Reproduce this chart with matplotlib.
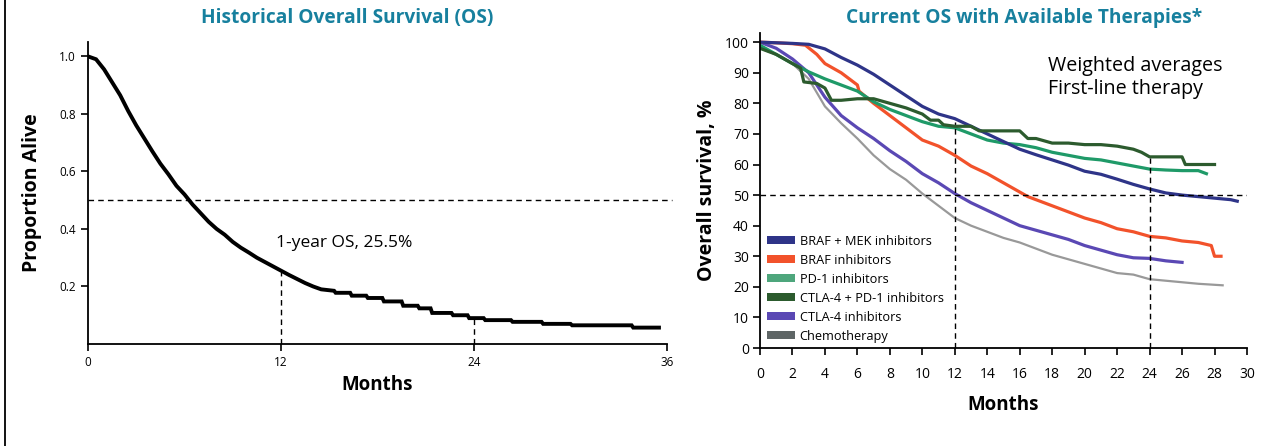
import matplotlib
matplotlib.use("Agg")
import matplotlib.pyplot as plt
from matplotlib.lines import Line2D
from matplotlib.patches import Patch

# ---------------- data ----------------
# Left panel: historical OS (Kaplan-Meier, proportion alive)
hist_months = [0, 0.5, 1, 1.5, 2, 2.5, 3, 3.5, 4, 4.5, 5, 5.5, 6, 6.5, 7, 7.5, 8, 8.5,
               9, 9.5, 10, 10.5, 11, 11.5, 12, 12.5, 13, 13.5, 14, 14.5, 15.3, 15.4,
               16.3, 16.4, 17.3, 17.4, 18.3, 18.4, 19.5, 19.6, 20.5, 20.6, 21.3, 21.4,
               22.6, 22.7, 23.6, 23.7, 24.6, 24.7, 26.3, 26.4, 28.2, 28.3, 30.0, 30.1,
               33.8, 33.9, 35.5]
hist_alive = [1.0, 0.99, 0.955, 0.91, 0.865, 0.81, 0.76, 0.715, 0.67, 0.627, 0.59, 0.55,
              0.52, 0.485, 0.455, 0.425, 0.40, 0.38, 0.355, 0.335, 0.318, 0.30, 0.285,
              0.27, 0.255, 0.24, 0.226, 0.212, 0.20, 0.19, 0.185, 0.178, 0.178, 0.168,
              0.168, 0.16, 0.16, 0.148, 0.148, 0.133, 0.133, 0.124, 0.124, 0.108,
              0.108, 0.10, 0.10, 0.09, 0.09, 0.083, 0.083, 0.077, 0.077, 0.07, 0.07,
              0.065, 0.065, 0.057, 0.057]
hist_xticks = [0, 12, 24, 36]
hist_yticks = [0.2, 0.4, 0.6, 0.8, 1.0]
hist_note = "1-year OS, 25.5%"

# Right panel: current OS by therapy (%)
series_names = ["BRAF + MEK inhibitors", "BRAF inhibitors", "PD-1 inhibitors",
                "CTLA-4 + PD-1 inhibitors", "CTLA-4 inhibitors", "Chemotherapy"]

braf_mek_t = [0, 1, 2, 3, 4, 5, 6, 7, 8, 9, 10, 11, 12, 13, 14, 15, 16, 17, 18, 19, 20,
              21, 22, 23, 24, 25, 26, 27, 28, 29, 29.4]
braf_mek_v = [100, 99.8, 99.6, 99.3, 97.8, 95, 92.5, 89.5, 86, 82.5, 79, 76.5, 75, 72.5,
              70, 67.5, 65, 63.2, 61.5, 59.8, 57.8, 56.8, 55.2, 53.5, 52, 50.7, 50,
              49.5, 49, 48.5, 48]

braf_t = [0, 1, 2, 2.8, 3.5, 4, 5, 6, 6.1, 7, 8, 9, 10, 11, 12, 13, 14, 15, 16, 16.5,
          17, 18, 19, 20, 21, 22, 23, 24, 25, 26, 27, 27.8, 28, 28.4]
braf_v = [100, 99.8, 99.5, 99, 96, 93, 90, 86, 84, 80, 76, 72, 68, 66, 63, 59.5, 57,
          54, 51, 49.5, 48.5, 46.5, 44.5, 42.5, 41, 39, 38, 36.5, 36, 35, 34.5, 33.5,
          30, 30]

pd1_t = [0, 1, 2, 3, 4, 5, 6, 7, 8, 9, 10, 11, 12, 13, 14, 15, 16, 17, 18, 19, 20, 21,
         22, 23, 24, 25, 26, 27, 27.5]
pd1_v = [99, 96, 93, 90.3, 88, 86, 84, 80.5, 78, 76, 74, 72.5, 72, 70, 68, 67, 66.5,
         65.5, 64, 63, 62, 61.5, 60.5, 59.5, 58.5, 58.2, 58, 58, 57]

combo_t = [0, 1, 2, 2.5, 2.7, 3.5, 4, 4.4, 5, 6, 7, 8, 9, 10, 10.5, 11, 11.3, 12, 13,
           13.5, 14, 15, 16, 16.5, 17, 18, 19, 20, 21, 22, 23, 23.5, 24, 25, 26, 26.2, 28]
combo_v = [98, 96, 93, 91.5, 87, 86.5, 85, 81, 81, 81.5, 81.5, 80, 78.5, 76.5, 74.5,
           74.5, 73, 72.5, 72.5, 71, 71, 71, 71, 68.5, 68.5, 67, 67, 66.5, 66.5, 66,
           65, 64, 62.5, 62.5, 62.5, 60, 60]

ctla4_t = [0, 1, 2, 3, 3.5, 4, 5, 6, 7, 8, 9, 10, 11, 12, 13, 14, 15, 16, 17, 18, 19,
           20, 21, 22, 23, 24, 25, 26]
ctla4_v = [100, 98, 94.5, 90, 86, 82, 76, 72, 68.5, 64.5, 61, 57, 54, 50.5, 47.5, 45,
           42.5, 40, 38.5, 37, 35.5, 33.5, 32, 30.5, 29.5, 29.3, 28.5, 28]

chemo_t = [0, 1, 2, 3, 4, 5, 6, 7, 8, 9, 10, 11, 12, 13, 14, 15, 16, 17, 18, 19, 20, 21,
           22, 23, 24, 25, 26, 27, 28.5]
chemo_v = [98, 96, 93, 88, 79, 73.5, 68.5, 63, 58.5, 55, 50.5, 46.5, 42.5, 40, 38, 36,
           34.5, 32.5, 30.5, 29, 27.5, 26, 24.5, 24, 22.5, 22, 21.5, 21, 20.5]

line_colors = ["#2e3488", "#f2522b", "#1f9a68", "#2c5b2e", "#5a48b4", "#999999"]
legend_colors = ["#2e3488", "#f2522b", "#4ea67c", "#2c5b2e", "#5a48b4", "#5f6666"]

cur_xticks = list(range(0, 31, 2))
cur_yticks = list(range(0, 101, 10))

title_color = "#17809e"
tick_font = ["Open Sans", "DejaVu Sans"]

# ---------------- figure ----------------
fig = plt.figure(figsize=(12.72, 4.46), dpi=100)
W, H = 1272, 446

def ax_rect(x0, x1, ytop, ybot):
    return [x0 / W, 1 - ybot / H, (x1 - x0) / W, (ybot - ytop) / H]

# left border line
fig.add_artist(Line2D([4.5 / W, 4.5 / W], [0, 1], color="black", lw=1.3))

# ---- left panel ----
ax1 = fig.add_axes(ax_rect(88, 667, 42, 344))
ax1.plot(hist_months, hist_alive, color="black", lw=2.8, solid_joinstyle="miter")
ax1.set_xlim(0, 36)
ax1.set_ylim(0, 1.05)
ax1.set_xticks(hist_xticks)
ax1.set_yticks(hist_yticks)
ax1.set_xticklabels([str(t) for t in hist_xticks])
ax1.set_yticklabels([f"{t:.1f}" for t in hist_yticks])
for s in ["top", "right"]:
    ax1.spines[s].set_visible(False)
for s in ["left", "bottom"]:
    ax1.spines[s].set_linewidth(1.3)
ax1.tick_params(direction="out", length=5, width=1.2, labelsize=8.5, pad=4)
for lab in ax1.get_xticklabels() + ax1.get_yticklabels():
    lab.set_family(tick_font)
ax1.axhline(0.5, xmin=0, xmax=1.008, color="black", lw=1, ls=(0, (4, 3)), clip_on=False)
ax1.plot([12, 12], [0, 0.25], color="black", lw=1, ls=(0, (4, 3)))
ax1.plot([24, 24], [0, 0.087], color="black", lw=1, ls=(0, (4, 3)))
ax1.text(11.7, 0.352, hist_note, fontsize=12.5, family=tick_font, va="center", ha="left")
ax1.set_xlabel("Months", fontsize=13.5, fontweight="bold", family="Open Sans", labelpad=4)
ax1.set_ylabel("Proportion Alive", fontsize=14, fontweight="bold", family="Open Sans",
               labelpad=12)
fig.text(347 / W, 1 - 18 / H, "Historical Overall Survival (OS)", color=title_color,
         fontsize=13.8, fontweight="bold", family="Open Sans", ha="center", va="center")

# ---- right panel ----
ax2 = fig.add_axes(ax_rect(760, 1247, 33, 348))
series = [(braf_mek_t, braf_mek_v), (braf_t, braf_v), (pd1_t, pd1_v),
          (combo_t, combo_v), (ctla4_t, ctla4_v), (chemo_t, chemo_v)]
draw_order = [5, 4, 1, 2, 0, 3]
for i in draw_order:
    t, v = series[i]
    lw = 1.6 if i == 5 else 2.3
    ax2.plot(t, v, color=line_colors[i], lw=lw, solid_joinstyle="round")
ax2.set_xlim(0, 30)
ax2.set_ylim(0, 103)
ax2.set_xticks(cur_xticks)
ax2.set_yticks(cur_yticks)
for s in ["top", "right"]:
    ax2.spines[s].set_visible(False)
for s in ["left", "bottom"]:
    ax2.spines[s].set_linewidth(1.3)
ax2.tick_params(direction="out", length=5, width=1.2, labelsize=10, pad=3)
ax2.tick_params(axis="x", pad=9)
for lab in ax2.get_xticklabels() + ax2.get_yticklabels():
    lab.set_family(tick_font)
ax2.axhline(50, color="black", lw=1, ls=(0, (4, 3)))
ax2.plot([12, 12], [0, 74], color="black", lw=1, ls=(0, (4, 3)))
ax2.plot([24, 24], [0, 62], color="black", lw=1, ls=(0, (4, 3)))
ax2.text(17.75, 88.5, "Weighted averages\nFirst-line therapy", fontsize=14.2,
         family=tick_font, va="center", ha="left", linespacing=1.2)
handles = [Patch(facecolor=c, edgecolor="none") for c in legend_colors]
ax2.legend(handles, series_names, loc="lower left", bbox_to_anchor=(-0.004, -0.012),
           frameon=False, prop={"family": tick_font, "size": 9.2},
           handlelength=2.2, handleheight=0.6, handletextpad=0.35, labelspacing=0.47,
           borderaxespad=0.3)
ax2.set_xlabel("Months", fontsize=13.5, fontweight="bold", family="Open Sans", labelpad=9)
ax2.set_ylabel("Overall survival, %", fontsize=14, fontweight="bold", family="Open Sans",
               labelpad=6)
fig.text(1024 / W, 1 - 18 / H, "Current OS with Available Therapies*", color=title_color,
         fontsize=13.8, fontweight="bold", family="Open Sans", ha="center", va="center")

fig.savefig("out.png", dpi=100)
